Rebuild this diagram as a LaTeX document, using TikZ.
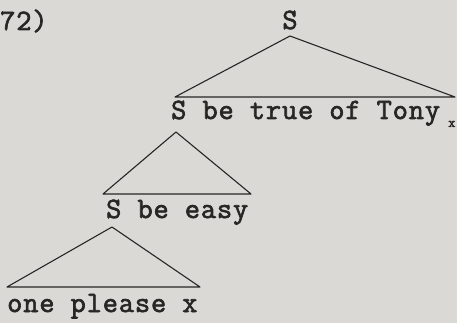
\documentclass[tikz,border=0pt]{standalone}
\usepackage{fontspec}
\newfontfamily\tw[FakeBold=2.2,LetterSpace=3]{Latin Modern Mono}
\definecolor{paper}{RGB}{218,217,214}
\definecolor{ink}{RGB}{40,38,36}
\begin{document}
\begin{tikzpicture}[x=1pt,y=1pt,
  lab/.style={font=\tw\fontsize{29.5}{30}\selectfont, text=ink, inner sep=0pt},
  tri/.style={draw=ink, line width=1.1pt, line join=round}]
\fill[paper] (0,0) rectangle (457,-323);
\useasboundingbox (0,0) rectangle (457,-323);
\node[lab, anchor=base west] (num) at (0,-30) {72)};
\node[lab, anchor=base] (s0) at (290,-29) {S};
\coordinate (a1) at (290,-36);
\coordinate (l1) at (175,-97);
\coordinate (r1) at (455,-97);
\draw[tri] (l1) -- (a1) -- (r1) -- cycle;
\node[lab, anchor=base west] (s1) at (171,-119) {S be true of Tony};
\node[font=\tw\fontsize{14}{14}\selectfont, text=ink, inner sep=0pt, anchor=base west] (sub) at (448,-127) {x};
\coordinate (a2) at (176,-132);
\coordinate (l2) at (103,-194);
\coordinate (r2) at (251,-194);
\draw[tri] (l2) -- (a2) -- (r2) -- cycle;
\node[lab, anchor=base west] (s2) at (106,-218) {S be easy};
\coordinate (a3) at (112,-227);
\coordinate (l3) at (7,-287);
\coordinate (r3) at (200,-287);
\draw[tri] (l3) -- (a3) -- (r3) -- cycle;
\node[lab, anchor=base west] (s3) at (7,-312) {one please x};
\end{tikzpicture}
\end{document}
